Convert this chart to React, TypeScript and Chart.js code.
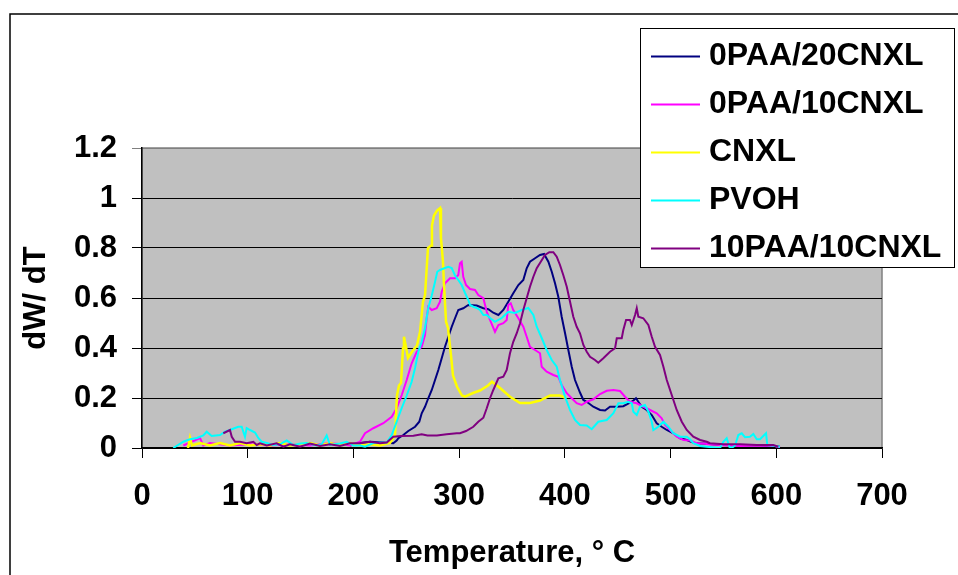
import { useEffect, useRef } from "react";
import { Chart, registerables } from "chart.js";

Chart.register(...registerables);

const seriesLabels = ["0PAA/20CNXL", "0PAA/10CNXL", "CNXL", "PVOH", "10PAA/10CNXL"];
const seriesColors = ["#000080", "#FF00FF", "#FFFF00", "#00FFFF", "#800080"];

const xTickValues = [0, 100, 200, 300, 400, 500, 600, 700];
const yTickValues = [0, 0.2, 0.4, 0.6, 0.8, 1, 1.2];
const xAxisTitle = "Temperature, ° C";
const yAxisTitle = "dW/ dT";

// 0PAA/20CNXL
const navyT = [196.8, 206.2, 215.7, 228.3, 237.7, 240.9, 242.5, 247.2, 251.9, 258.3, 262.3, 264.6, 267.7, 270.8, 274.1, 277.2, 280.3, 283.5, 286.6, 289.8, 293.0, 296.1, 299.2, 303.9, 308.7, 316.6, 322.9, 327.6, 332.3, 337.1, 341.8, 346.5, 351.2, 356.0, 360.7, 363.9, 367.0, 371.8, 376.5, 380.3, 384.4, 387.6, 390.7, 393.8, 397.0, 400.2, 403.3, 406.5, 409.6, 414.3, 417.5, 420.7, 426.9, 433.3, 438.0, 442.7, 449.1, 455.3, 461.6, 464.8, 467.3, 469.5, 472.7, 477.4, 482.2, 486.9, 491.6, 496.4, 502.6, 509.0, 515.3, 523.1, 531.0, 546.8, 565.7, 584.6, 598.8, 603.5];
const navyV = [0.01, 0.02, 0.025, 0.022, 0.019, 0.03, 0.039, 0.052, 0.068, 0.085, 0.105, 0.139, 0.165, 0.199, 0.232, 0.272, 0.312, 0.359, 0.405, 0.445, 0.485, 0.519, 0.552, 0.559, 0.572, 0.57, 0.559, 0.555, 0.541, 0.532, 0.552, 0.585, 0.619, 0.652, 0.672, 0.719, 0.745, 0.759, 0.772, 0.776, 0.745, 0.705, 0.659, 0.605, 0.525, 0.459, 0.392, 0.325, 0.272, 0.222, 0.192, 0.185, 0.165, 0.152, 0.15, 0.165, 0.165, 0.167, 0.181, 0.19, 0.199, 0.185, 0.165, 0.152, 0.132, 0.099, 0.085, 0.072, 0.059, 0.039, 0.032, 0.019, 0.018, 0.012, 0.01, 0.01, 0.008, 0.005];

// 0PAA/10CNXL
const magentaT = [39.1, 54.9, 58.0, 64.3, 83.0, 102.0, 121.0, 140.0, 158.9, 177.8, 196.8, 206.2, 211.0, 218.8, 228.3, 236.2, 240.9, 245.7, 250.4, 255.1, 259.9, 264.6, 267.7, 269.3, 270.8, 274.1, 278.8, 281.9, 283.5, 286.6, 291.4, 296.1, 299.2, 300.8, 302.4, 303.9, 306.5, 310.3, 315.0, 318.1, 322.9, 326.1, 329.2, 333.9, 337.1, 341.8, 345.0, 346.5, 348.8, 351.2, 356.0, 360.7, 363.9, 367.0, 371.8, 376.5, 378.1, 382.8, 389.1, 393.8, 397.0, 401.8, 406.5, 411.2, 415.9, 420.7, 426.9, 433.3, 439.6, 445.9, 452.2, 456.9, 461.6, 468.0, 474.2, 480.6, 486.9, 491.6, 494.8, 499.5, 505.8, 512.1, 518.4, 524.7, 531.0, 535.7, 546.8, 565.7, 584.6, 598.8, 603.5];
const magentaV = [0.01, 0.04, 0.01, 0.02, 0.01, 0.015, 0.01, 0.015, 0.01, 0.02, 0.01, 0.025, 0.059, 0.079, 0.099, 0.125, 0.159, 0.212, 0.272, 0.339, 0.385, 0.405, 0.452, 0.519, 0.565, 0.552, 0.559, 0.585, 0.625, 0.659, 0.679, 0.679, 0.692, 0.739, 0.745, 0.685, 0.652, 0.636, 0.632, 0.612, 0.599, 0.545, 0.512, 0.465, 0.492, 0.499, 0.512, 0.572, 0.579, 0.552, 0.519, 0.485, 0.445, 0.405, 0.392, 0.379, 0.325, 0.305, 0.292, 0.285, 0.252, 0.219, 0.199, 0.179, 0.172, 0.185, 0.195, 0.216, 0.229, 0.232, 0.228, 0.205, 0.185, 0.179, 0.165, 0.152, 0.139, 0.119, 0.092, 0.072, 0.045, 0.032, 0.03, 0.019, 0.018, 0.015, 0.012, 0.008, 0.01, 0.008, 0.002];

// CNXL
const yellowT = [43.5, 45.4, 47.3, 54.9, 64.3, 73.8, 83.2, 92.7, 102.2, 111.6, 121.1, 130.5, 140.0, 149.5, 158.9, 168.4, 177.8, 187.3, 196.8, 206.2, 215.7, 225.1, 234.6, 239.3, 241.2, 243.1, 245.0, 246.9, 247.8, 249.7, 251.6, 255.4, 260.1, 263.0, 265.8, 267.7, 270.5, 273.4, 274.3, 276.2, 279.1, 281.9, 282.8, 284.7, 285.7, 287.6, 289.5, 292.3, 294.2, 298.0, 302.7, 305.5, 313.1, 319.7, 327.3, 331.1, 338.7, 348.1, 357.6, 367.0, 376.5, 386.0, 395.4, 401.1];
const yellowV = [0.0, 0.04, 0.01, 0.02, 0.01, 0.02, 0.01, 0.02, 0.01, 0.015, 0.01, 0.02, 0.01, 0.015, 0.02, 0.01, 0.02, 0.01, 0.02, 0.01, 0.015, 0.01, 0.02, 0.05, 0.21, 0.25, 0.26, 0.4, 0.445, 0.405, 0.36, 0.385, 0.41, 0.465, 0.585, 0.61, 0.8, 0.81, 0.89, 0.93, 0.95, 0.96, 0.84, 0.745, 0.65, 0.505, 0.48, 0.37, 0.29, 0.245, 0.21, 0.205, 0.22, 0.23, 0.25, 0.265, 0.24, 0.205, 0.18, 0.18, 0.19, 0.21, 0.21, 0.2];

// PVOH
const cyanT = [29.6, 39.1, 45.4, 52.0, 58.0, 61.2, 65.9, 73.8, 78.5, 83.2, 88.0, 91.1, 94.3, 97.4, 99.0, 102.2, 106.9, 110.0, 113.2, 118.0, 124.0, 130.5, 136.9, 143.1, 150.0, 155.8, 165.0, 170.0, 174.7, 177.8, 187.3, 193.6, 199.9, 206.2, 211.0, 218.8, 231.5, 236.2, 240.9, 245.7, 250.4, 255.1, 258.3, 261.4, 264.6, 267.7, 270.8, 274.1, 277.2, 279.3, 281.9, 286.6, 289.8, 293.0, 296.1, 299.2, 302.4, 305.6, 308.7, 310.3, 313.4, 316.6, 319.7, 322.9, 326.1, 329.2, 333.9, 340.3, 346.5, 352.9, 359.2, 365.4, 370.2, 373.4, 378.1, 382.8, 387.6, 392.3, 395.4, 400.2, 404.9, 409.6, 414.3, 420.7, 425.4, 431.6, 439.6, 445.9, 450.6, 455.3, 460.0, 463.3, 464.8, 468.0, 471.1, 475.8, 479.0, 482.2, 483.7, 488.4, 493.2, 497.9, 502.6, 509.0, 515.3, 518.4, 521.5, 527.9, 534.2, 546.8, 549.9, 553.1, 555.6, 557.8, 561.0, 564.1, 567.3, 570.4, 575.1, 578.3, 581.5, 584.6, 587.7, 590.3, 591.5, 595.7, 603.5];
const cyanV = [0.0, 0.025, 0.035, 0.04, 0.05, 0.065, 0.048, 0.052, 0.065, 0.072, 0.08, 0.085, 0.085, 0.045, 0.08, 0.072, 0.062, 0.04, 0.025, 0.02, 0.012, 0.015, 0.03, 0.012, 0.018, 0.02, 0.01, 0.015, 0.05, 0.012, 0.018, 0.025, 0.01, 0.01, 0.005, 0.02, 0.022, 0.052, 0.105, 0.16, 0.21, 0.265, 0.32, 0.385, 0.425, 0.48, 0.56, 0.61, 0.665, 0.705, 0.712, 0.72, 0.725, 0.72, 0.69, 0.672, 0.652, 0.62, 0.592, 0.572, 0.565, 0.56, 0.552, 0.532, 0.532, 0.52, 0.505, 0.52, 0.545, 0.54, 0.552, 0.56, 0.532, 0.485, 0.44, 0.392, 0.352, 0.325, 0.272, 0.205, 0.152, 0.112, 0.092, 0.09, 0.075, 0.105, 0.112, 0.139, 0.179, 0.179, 0.185, 0.179, 0.145, 0.132, 0.165, 0.172, 0.145, 0.105, 0.072, 0.085, 0.105, 0.085, 0.059, 0.045, 0.045, 0.035, 0.019, 0.008, 0.005, 0.0, 0.025, 0.039, 0.005, 0.0, 0.01, 0.052, 0.059, 0.043, 0.045, 0.056, 0.035, 0.035, 0.048, 0.059, 0.012, 0.01, 0.005];

// 10PAA/10CNXL
const purpleT = [76.9, 83.2, 84.9, 88.0, 92.7, 99.0, 105.3, 108.5, 111.6, 118.0, 127.4, 133.7, 140.0, 149.5, 158.9, 168.4, 177.8, 187.3, 196.8, 206.2, 215.7, 225.1, 231.5, 237.7, 245.0, 256.7, 264.6, 270.0, 279.0, 288.2, 297.7, 300.8, 306.5, 313.4, 318.1, 322.9, 326.1, 329.2, 332.3, 337.1, 341.8, 345.0, 348.1, 351.2, 354.5, 357.6, 360.7, 363.9, 367.0, 370.2, 373.4, 377.2, 381.2, 385.3, 389.1, 392.3, 395.4, 398.5, 401.8, 404.9, 408.0, 411.2, 414.3, 417.5, 420.7, 423.8, 428.5, 431.6, 436.4, 442.7, 447.5, 449.1, 453.8, 455.3, 457.9, 461.6, 463.3, 466.4, 468.0, 469.5, 474.2, 479.0, 482.2, 485.3, 490.0, 493.2, 496.4, 501.1, 505.8, 510.6, 515.3, 521.5, 527.9, 534.2, 537.3, 549.9, 565.7, 581.5, 597.2, 601.9];
const purpleV = [0.059, 0.072, 0.045, 0.025, 0.025, 0.019, 0.025, 0.012, 0.019, 0.01, 0.019, 0.005, 0.015, 0.005, 0.018, 0.008, 0.015, 0.008, 0.019, 0.019, 0.025, 0.019, 0.022, 0.045, 0.048, 0.049, 0.055, 0.05, 0.05, 0.055, 0.059, 0.059, 0.068, 0.085, 0.105, 0.121, 0.159, 0.199, 0.232, 0.279, 0.285, 0.312, 0.379, 0.425, 0.459, 0.499, 0.552, 0.599, 0.645, 0.685, 0.719, 0.745, 0.772, 0.783, 0.783, 0.765, 0.732, 0.692, 0.645, 0.585, 0.525, 0.485, 0.459, 0.412, 0.385, 0.365, 0.352, 0.341, 0.359, 0.385, 0.399, 0.439, 0.439, 0.472, 0.512, 0.512, 0.492, 0.532, 0.559, 0.525, 0.519, 0.492, 0.445, 0.405, 0.372, 0.325, 0.272, 0.212, 0.152, 0.105, 0.072, 0.045, 0.032, 0.025, 0.019, 0.015, 0.015, 0.012, 0.012, 0.005];

const seriesT = [navyT, magentaT, yellowT, cyanT, purpleT];
const seriesV = [navyV, magentaV, yellowV, cyanV, purpleV];
const seriesWidths = [2, 2, 2.5, 2, 2];
const seriesOrder = [5, 4, 3, 2, 1];

const FAMILY = "Arial, 'Liberation Sans', sans-serif";

const decorPlugin = {
  id: "decor",
  beforeDraw(chart: any) {
    const { ctx, chartArea: a } = chart;
    ctx.save();
    ctx.fillStyle = "#ffffff";
    ctx.fillRect(0, 0, chart.width, chart.height);
    ctx.strokeStyle = "#000000";
    ctx.lineWidth = 1.5;
    ctx.strokeRect(10, 14, chart.width + 40, chart.height + 40);
    ctx.fillStyle = "#C0C0C0";
    ctx.fillRect(a.left, a.top, a.right - a.left, a.bottom - a.top);
    ctx.strokeStyle = "#808080";
    ctx.lineWidth = 1.5;
    ctx.strokeRect(a.left, a.top, a.right - a.left, a.bottom - a.top);
    ctx.restore();
  },
  afterDraw(chart: any) {
    const { ctx } = chart;
    const bx = 640, by = 28.5, bw = 314, bh = 239;
    ctx.save();
    ctx.fillStyle = "#ffffff";
    ctx.fillRect(bx, by, bw, bh);
    ctx.strokeStyle = "#000000";
    ctx.lineWidth = 1;
    ctx.strokeRect(bx + 0.5, by, bw, bh);
    ctx.font = `bold 32px ${FAMILY}`;
    ctx.textBaseline = "middle";
    ctx.textAlign = "left";
    chart.data.datasets.forEach((ds: any, i: number) => {
      const y = 56.5 + 48 * i;
      ctx.strokeStyle = ds.borderColor;
      ctx.lineWidth = 2;
      ctx.beginPath();
      ctx.moveTo(651, y);
      ctx.lineTo(700, y);
      ctx.stroke();
      ctx.fillStyle = "#000000";
      ctx.fillText(ds.label, 709, y);
    });
    ctx.restore();
  },
};

export default function App() {
  const canvasRef = useRef<HTMLCanvasElement | null>(null);

  useEffect(() => {
    const canvas = canvasRef.current;
    if (!canvas) return;
    const datasets = seriesLabels.map((label, i) => ({
      label,
      data: seriesT[i].map((t, j) => ({ x: t, y: seriesV[i][j] })),
      borderColor: seriesColors[i],
      backgroundColor: seriesColors[i],
      borderWidth: seriesWidths[i],
      pointRadius: 0,
      fill: false,
      tension: 0,
      order: seriesOrder[i],
    }));
    const tickFont = { family: FAMILY, size: 31, weight: "bold" as const };
    const chart = new Chart(canvas, {
      type: "line",
      data: { datasets },
      plugins: [decorPlugin],
      options: {
        animation: false,
        responsive: false,
        devicePixelRatio: 1,
        layout: { padding: { left: 0, top: 148, right: 76, bottom: 0 } },
        plugins: { legend: { display: false }, tooltip: { enabled: false } },
        scales: {
          x: {
            type: "linear",
            min: 0,
            max: 700,
            afterBuildTicks: (s: any) => {
              s.ticks = xTickValues.map((v) => ({ value: v }));
            },
            afterFit: (s: any) => {
              s.height = 127;
            },
            ticks: {
              font: tickFont,
              color: "#000",
              padding: 20,
              maxRotation: 0,
              autoSkip: false,
              callback: (v: any) => String(v),
            },
            grid: { drawOnChartArea: false, drawTicks: true, tickLength: 10, color: "#000", lineWidth: 1 },
            border: { display: true, color: "#000", width: 1.5 },
            title: {
              display: true,
              text: xAxisTitle,
              font: tickFont,
              color: "#000",
              padding: { top: 0, bottom: 3 },
            },
          },
          y: {
            type: "linear",
            min: 0,
            max: 1.2,
            afterBuildTicks: (s: any) => {
              s.ticks = yTickValues.map((v) => ({ value: v }));
            },
            afterFit: (s: any) => {
              s.width = 142;
            },
            ticks: {
              font: tickFont,
              color: "#000",
              padding: 15,
              callback: (v: any) => String(Math.round(Number(v) * 10) / 10),
            },
            grid: {
              color: (c: any) => (c.tick && Math.abs(c.tick.value - 1.2) < 1e-6 ? "#808080" : "#000"),
              lineWidth: 1,
              tickLength: 10,
              drawTicks: true,
            },
            border: { display: true, color: "#000", width: 1.5 },
            title: {
              display: true,
              text: yAxisTitle,
              font: tickFont,
              color: "#000",
              padding: { top: 18, bottom: 0 },
            },
          },
        },
      },
    });
    return () => chart.destroy();
  }, []);

  return (
    <div style={{ position: "absolute", left: 0, top: 0, width: 958, height: 575, overflow: "hidden" }}>
      <canvas ref={canvasRef} width={958} height={575} style={{ display: "block" }} />
    </div>
  );
}
